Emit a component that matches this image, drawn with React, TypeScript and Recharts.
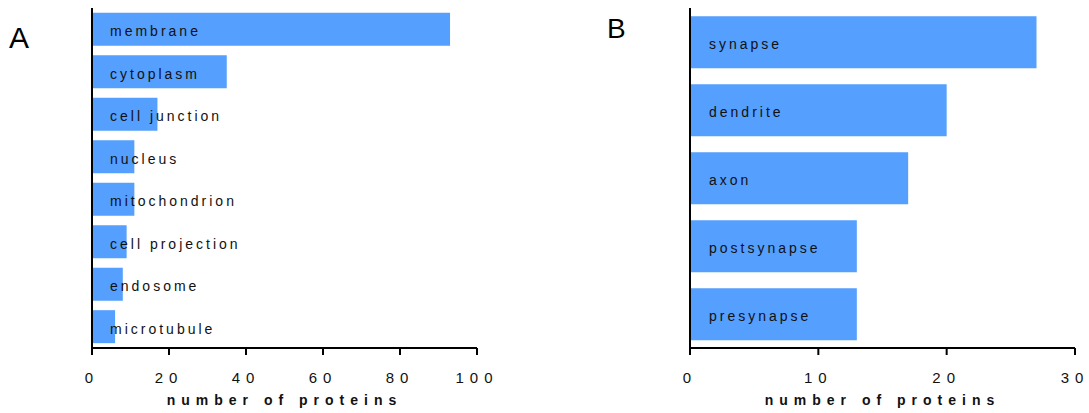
import React from "react";
import { BarChart, Bar, XAxis, YAxis, LabelList } from "recharts";

// panel A: subcellular location
const categoriesA = ["membrane", "cytoplasm", "cell junction", "nucleus", "mitochondrion", "cell projection", "endosome", "microtubule"];
const countsA = [93, 35, 17, 11, 11, 9, 8, 6];
const ticksA = [0, 20, 40, 60, 80, 100];

// panel B: neuronal compartments
const categoriesB = ["synapse", "dendrite", "axon", "postsynapse", "presynapse"];
const countsB = [27, 20, 17, 13, 13];
const ticksB = [0, 10, 20, 30];

const FONT = '"Liberation Sans", Arial, sans-serif';
const BAR_COLOR = "#559FFF";
const AXIS_TITLE = "number of proteins";

const dataA = categoriesA.map((name, i) => ({ name, value: countsA[i] }));
const dataB = categoriesB.map((name, i) => ({ name, value: countsB[i] }));

const renderBarLabel = (offset: number) => (p: any) => {
  const vb = p.viewBox ?? p;
  return (
    <text
      x={Number(vb.x) + offset}
      y={Number(vb.y) + Number(vb.height) / 2 + 7}
      fontSize={14}
      letterSpacing={3}
      fill="#111"
      fontFamily={FONT}
    >
      {p.value}
    </text>
  );
};

interface PanelProps {
  data: { name: string; value: number }[];
  ticks: number[];
  width: number;
  left: number;
  yWidth: number;
  right: number;
  gap: string;
  labelOffset: number;
}

const Panel: React.FC<PanelProps> = ({ data, ticks, width, left, yWidth, right, gap, labelOffset }) => (
  <div style={{ position: "absolute", left, top: 0 }}>
    <BarChart
      width={width}
      height={413}
      layout="vertical"
      data={data}
      margin={{ top: 8, right, bottom: 5, left: 0 }}
      barCategoryGap={gap}
      style={{ fontFamily: FONT }}
    >
      <XAxis
        type="number"
        domain={[ticks[0], ticks[ticks.length - 1]]}
        ticks={ticks}
        height={60}
        tickSize={7}
        tickMargin={17}
        axisLine={{ stroke: "#000", strokeWidth: 2 }}
        tickLine={{ stroke: "#000", strokeWidth: 2 }}
        tick={{ fontSize: 15, fill: "#111", letterSpacing: 6, fontFamily: FONT }}
        label={{
          value: AXIS_TITLE,
          position: "insideBottom",
          offset: 3,
          fontSize: 14,
          fontWeight: "bold",
          letterSpacing: 6,
          fill: "#111",
          fontFamily: FONT,
        }}
      />
      <YAxis
        type="category"
        dataKey="name"
        width={yWidth}
        tick={false}
        tickLine={false}
        axisLine={{ stroke: "#000", strokeWidth: 2 }}
      />
      <Bar dataKey="value" fill={BAR_COLOR} isAnimationActive={false}>
        <LabelList dataKey="name" content={renderBarLabel(labelOffset)} />
      </Bar>
    </BarChart>
  </div>
);

const App: React.FC = () => {
  return (
    <div style={{ position: "absolute", left: 0, top: 0, width: 1089, height: 413, background: "#fff", fontFamily: FONT }}>
      <Panel data={dataA} ticks={ticksA} width={560} left={0} yWidth={92} right={83} gap="11%" labelOffset={18} />
      <Panel data={dataB} ticks={ticksB} width={529} left={560} yWidth={130} right={14} gap="12%" labelOffset={19} />
      <svg width={1089} height={413} style={{ position: "absolute", left: 0, top: 0, pointerEvents: "none" }}>
        <text x={9} y={48} fontSize={30} fontFamily={FONT} fill="#000">A</text>
        <text x={607} y={38} fontSize={28} fontFamily={FONT} fill="#000">B</text>
      </svg>
    </div>
  );
};

export default App;
